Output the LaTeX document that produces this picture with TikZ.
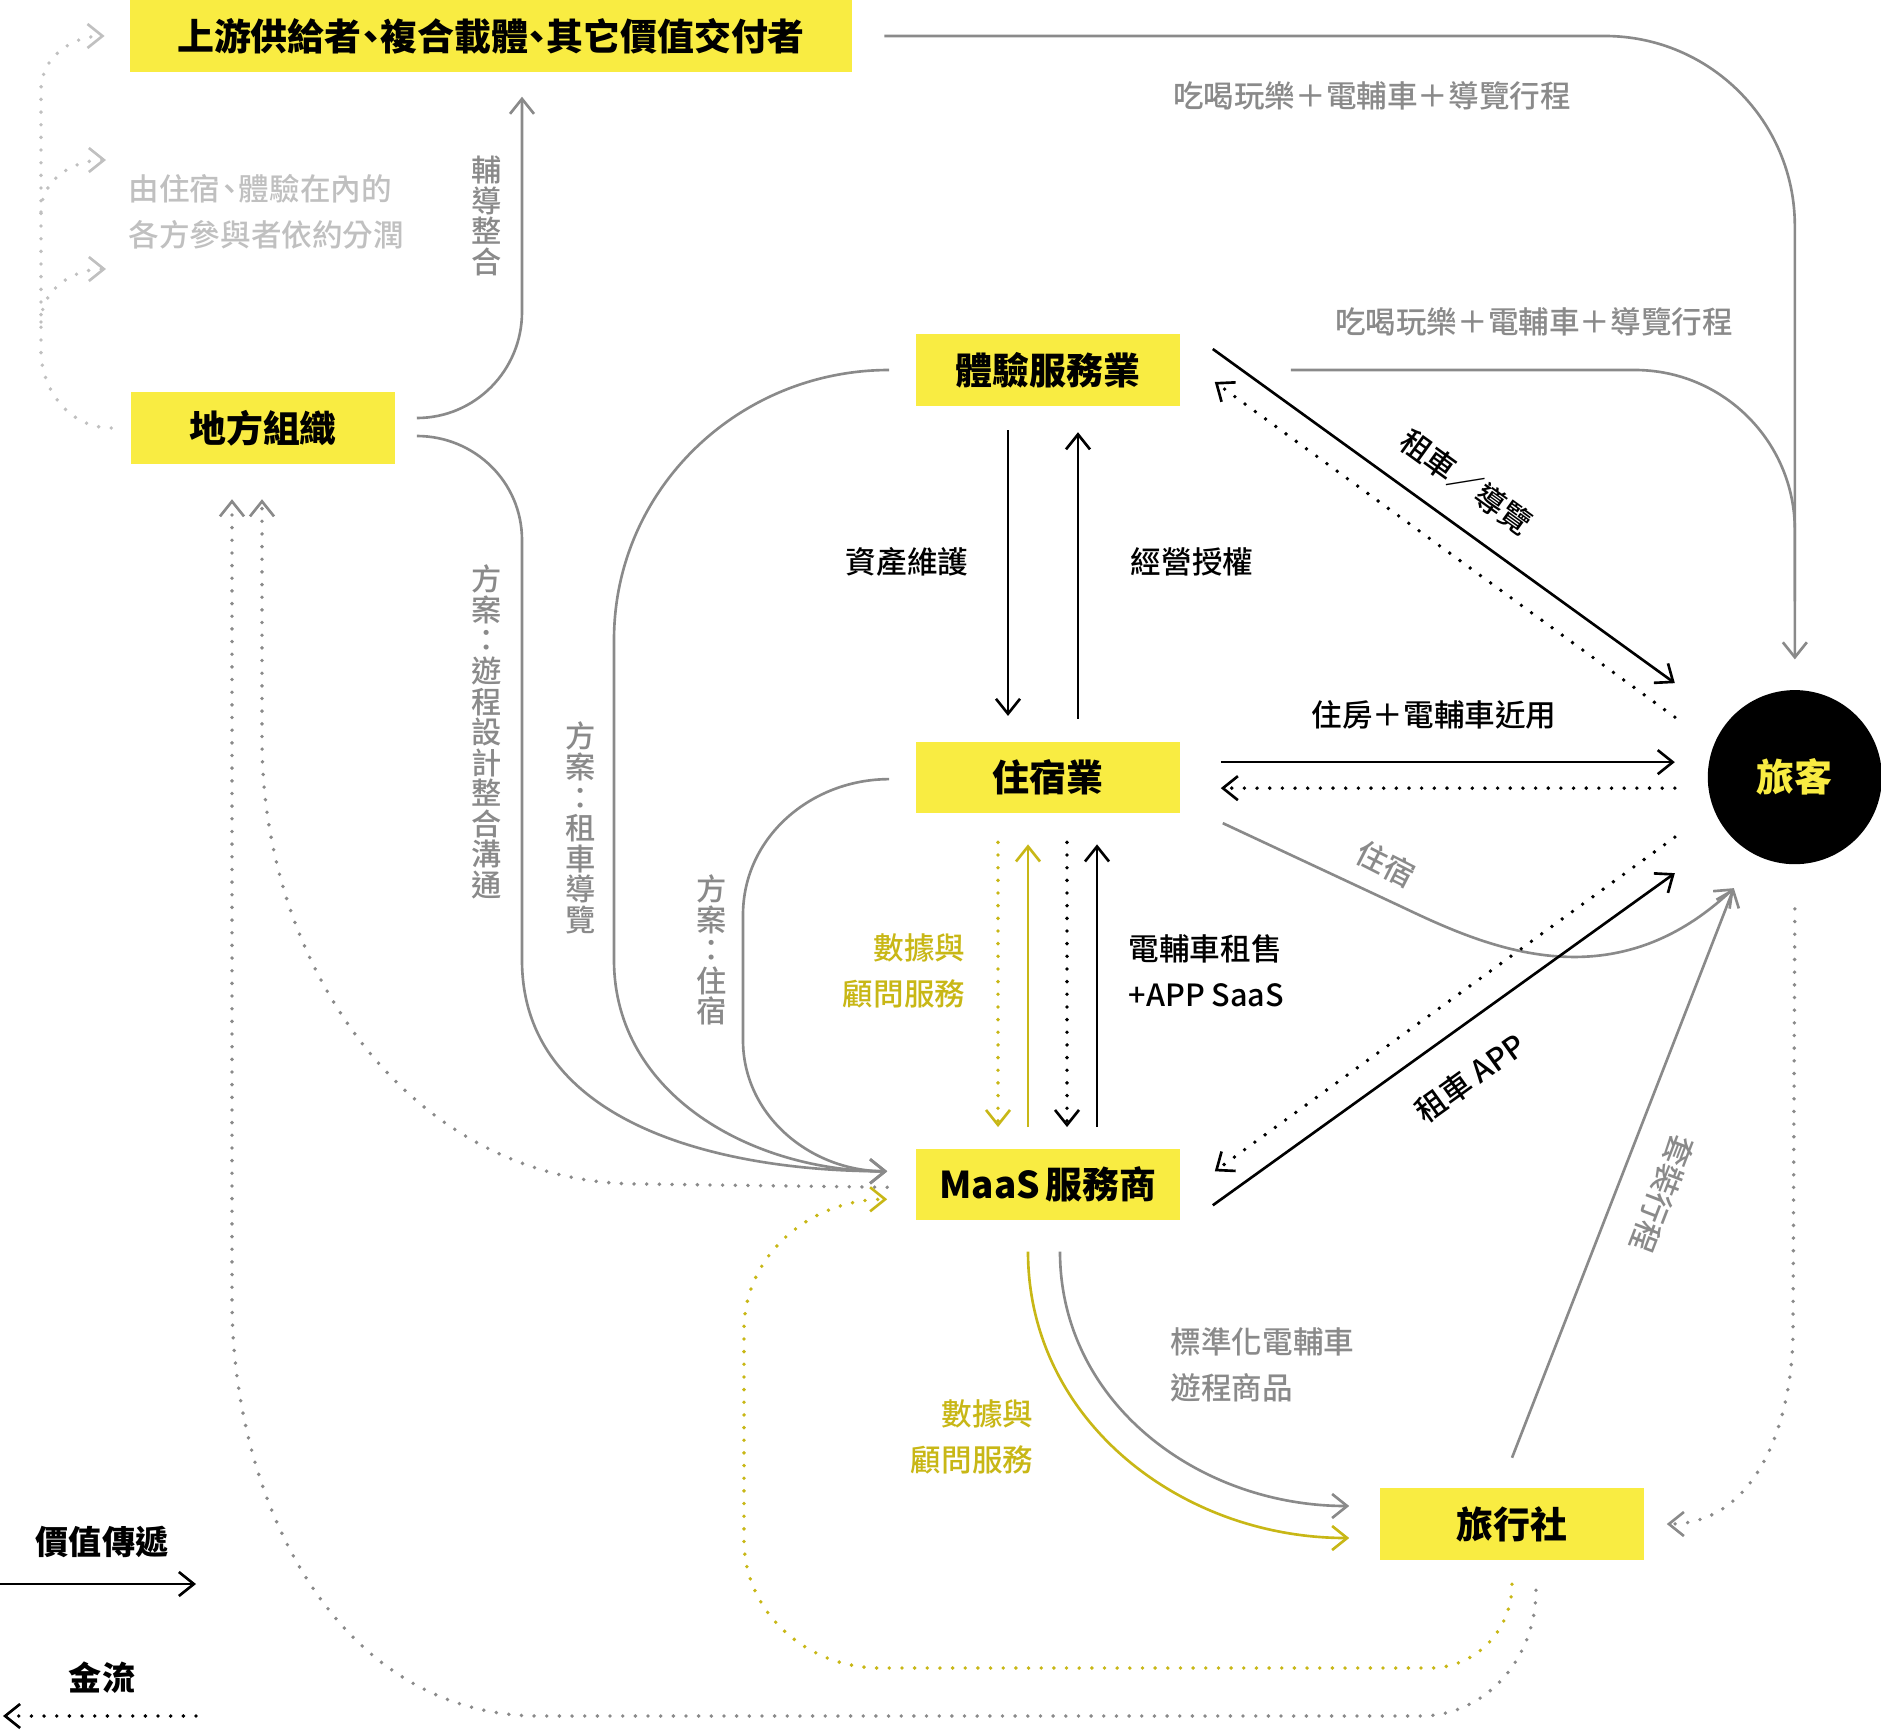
\documentclass[tikz,border=0pt]{standalone}
\usepackage{fontspec}
\setmainfont{Noto Sans CJK TC}
\newfontfamily\medfont{Noto Sans CJK TC Medium}
\usetikzlibrary{arrows.meta,positioning}
\definecolor{boxyellow}{RGB}{249,236,66}
\definecolor{datayellow}{RGB}{200,183,22}
\definecolor{flowgray}{RGB}{138,138,138}
\definecolor{palegray}{RGB}{192,192,192}

\begin{document}
\begin{tikzpicture}[
    x=0.01cm, y=0.01cm,
    box/.style={fill=boxyellow, minimum width=2.64cm, minimum height=0.71cm,
                inner sep=0pt, font=\fontsize{10.5pt}{12pt}\selectfont\bfseries},
    lbl/.style={inner sep=0pt, font=\fontsize{8.7pt}{13.1pt}\medfont},
    vlbl/.style={inner sep=0pt, align=center, text=flowgray,
                 font=\fontsize{8.6pt}{8.7pt}\medfont},
    flow/.style={line width=0.75pt, ->},
    cash/.style={line width=1.1pt, line cap=round, dash pattern=on 0pt off 3.6pt, ->},
    >={Straight Barb[length=1.5mm, width=2.4mm, line width=0.75pt]}]
  \useasboundingbox (0,0) rectangle (1881,-1730);

  % actors
  \node[box, minimum width=7.21cm, minimum height=0.72cm] (supply) at (491,-36)
    {上游供給者\kern-.25em、\kern-.25em複合載體\kern-.25em、\kern-.25em其它價值交付者};
  \node[box] (local) at (263,-428) {地方組織};
  \node[box] (exper) at (1048,-370) {體驗服務業};
  \node[box, below=3.345cm of exper] (lodge) {住宿業};
  \node[box, below=3.345cm of lodge] (maas) {MaaS\kern.15em 服務商};
  \node[box] (agency) at (1512,-1524) {旅行社};
  \node[circle, fill=black, minimum size=1.74cm, inner sep=0pt, text=boxyellow,
        font=\fontsize{10.8pt}{12pt}\selectfont\bfseries, right=5.26cm of lodge] (guest) {旅客};

  % revenue share (pale)
  \node[lbl, text=palegray, align=left, anchor=west] (sharetext) at (128,-212)
    {由住宿\kern-.2em、\kern-.2em體驗在內的\\各方參與者依約分潤};
  \coordinate (share1) at (106,-160);
  \coordinate (share2) at (106,-269);
  \draw[cash, palegray] ([shift={(-19,0)}]local.west) to[out=180,in=-90] (41,-350)
    -- (41,-90) to[out=90,in=180] ([shift={(-25,0)}]supply.west);
  \draw[cash, palegray] (41,-212) to[out=90,in=180] (share1);
  \draw[cash, palegray] (41,-322) to[out=90,in=180] (share2);

  % local organisation
  \draw[flow, flowgray] ([shift={(21,10)}]local.east) to[out=0,in=-90] (522,-312)
    -- ([shift={(31,-24)}]supply.south);
  \node[vlbl] (coachlbl) at (487,-216) {輔\\導\\整\\合};
  \draw[flow, flowgray] ([shift={(21,-8)}]local.east) to[out=0,in=90] (522,-540)
    -- (522,-960) to[out=-90,in=180] ([shift={(-28,13)}]maas.west);
  \node[vlbl] (planlbl) at (487,-732) {方\\案\\：\\遊\\程\\設\\計\\整\\合\\溝\\通};
  \draw[flow, flowgray] ([shift={(-26,0)}]exper.west) to[out=180,in=90] (614,-640)
    -- (614,-960) to[out=-90,in=180] ([shift={(-28,13)}]maas.west);
  \node[vlbl] (rentlbl) at (581,-828) {方\\案\\：\\租\\車\\導\\覽};
  \draw[flow, flowgray] ([shift={(-26,-2)}]lodge.west) to[out=180,in=90] (743,-915)
    -- (743,-1040) to[out=-90,in=180] ([shift={(-28,13)}]maas.west);
  \node[vlbl] (staylbl) at (712,-950) {方\\案\\：\\住\\宿};

  % to the traveller
  \draw[flow, flowgray, rounded corners=1.9cm] ([shift={(32,0)}]supply.east)
    -| ([shift={(0,30)}]guest.north);
  \node[lbl, text=flowgray] (pkglbl1) at (1372,-96) {吃喝玩樂＋電輔車＋導覽行程};
  \draw[line width=0.75pt, flowgray, rounded corners=1.6cm] ([shift={(110,0)}]exper.east)
    -| ([shift={(0,88)}]guest.north);
  \node[lbl, text=flowgray] (pkglbl2) at (1534,-322) {吃喝玩樂＋電輔車＋導覽行程};

  \draw[flow] ([shift={(32,21)}]exper.east) -- ([shift={(-120,94)}]guest.center);
  \draw[cash] ([shift={(-120,60)}]guest.center) -- ([shift={(34,-12)}]exper.east);
  \node[lbl, rotate=-35.8] (guidelbl) at (1466,-482) {租車／導覽};

  \draw[flow] ([shift={(40,15)}]lodge.east) -- ([shift={(-120,15)}]guest.center);
  \draw[cash] ([shift={(-120,-11)}]guest.center) -- ([shift={(40,-11)}]lodge.east);
  \node[lbl] (roomlbl) at (1434,-715) {住房＋電輔車近用};

  \draw[flow, flowgray] ([shift={(42,-46)}]lodge.east) -- (1400,-906)
    .. controls (1482,-945) and (1610,-1005) .. ([shift={(-61,-111)}]guest.center);
  \node[lbl, text=flowgray, rotate=-27] (sleeplbl) at (1386,-864) {住宿};

  \draw[flow] ([shift={(32,-21)}]maas.east) -- ([shift={(-120,-96)}]guest.center);
  \draw[cash] ([shift={(-120,-60)}]guest.center) -- ([shift={(34,13)}]maas.east);
  \node[lbl, rotate=35.7] (applbl) at (1470,-1078) {租車 APP};

  \draw[flow, flowgray] ([shift={(0,30)}]agency.north) -- ([shift={(-61,-111)}]guest.center);
  \node[lbl, text=flowgray, rotate=-111] (tourlbl) at (1662,-1194) {套裝行程};
  \draw[cash, flowgray] ([shift={(0,-44)}]guest.south) -- (1793,-1330)
    to[out=-90,in=0] ([shift={(22,0)}]agency.east);

  % experience <-> lodging
  \draw[flow] ([shift={(-40,-24)}]exper.south) -- ([shift={(-40,25)}]lodge.north);
  \draw[flow] ([shift={(30,22)}]lodge.north) -- ([shift={(30,-26)}]exper.south);
  \node[lbl] (assetlbl) at (907,-562) {資產維護};
  \node[lbl] (licencelbl) at (1192,-562) {經營授權};

  % lodging <-> MaaS
  \draw[cash, datayellow] ([shift={(-50,-29)}]lodge.south) -- ([shift={(-50,21)}]maas.north);
  \draw[flow, datayellow] ([shift={(-20,21)}]maas.north) -- ([shift={(-20,-31)}]lodge.south);
  \draw[cash] ([shift={(19,-29)}]lodge.south) -- ([shift={(19,21)}]maas.north);
  \draw[flow] ([shift={(49,21)}]maas.north) -- ([shift={(49,-31)}]lodge.south);
  \node[lbl, text=datayellow, align=right, anchor=east] (datalbl1) at (966,-971) {數據與\\顧問服務};
  \node[lbl, align=left, anchor=west] (salelbl) at (1128,-971) {電輔車租售\\+APP SaaS};

  % MaaS -> agency
  \draw[flow, flowgray] ([shift={(12,-31)}]maas.south) to[out=-90,in=180] ([shift={(-30,18)}]agency.west);
  \draw[flow, datayellow] ([shift={(-20,-31)}]maas.south) to[out=-90,in=180] ([shift={(-30,-14)}]agency.west);
  \node[lbl, text=flowgray, align=left, anchor=west] (productlbl) at (1170,-1365) {標準化電輔車\\遊程商品};
  \node[lbl, text=datayellow, align=right, anchor=east] (datalbl2) at (1034,-1437) {數據與\\顧問服務};

  % money back
  \draw[cash, flowgray] ([shift={(-28,-3)}]maas.west) -- (640,-1184)
    to[out=180,in=-90] (262,-740) -- ([shift={(-1,-35)}]local.south);
  \draw[cash, flowgray] ([shift={(24,-30)}]agency.south) to[out=-90,in=0] (1420,-1716)
    -- (540,-1716) to[out=180,in=-90] (232,-1300) -- ([shift={(-31,-35)}]local.south);
  \draw[cash, datayellow] ([shift={(0,-24)}]agency.south) to[out=-90,in=0] (1430,-1668)
    -- (880,-1668) to[out=180,in=-90] (744,-1540) -- (744,-1330)
    to[out=90,in=180] ([shift={(-28,-15)}]maas.west);

  % legend
  \node[lbl, font=\fontsize{9.4pt}{12pt}\selectfont\bfseries] (valuekey) at (102,-1542) {價值傳遞};
  \coordinate (valuea) at (0,-1584);
  \coordinate (valueb) at (196,-1584);
  \draw[flow] (valuea) -- (valueb);
  \node[lbl, font=\fontsize{9.4pt}{12pt}\selectfont\bfseries] (cashkey) at (102,-1678) {金流};
  \coordinate (casha) at (196,-1716);
  \coordinate (cashb) at (3,-1716);
  \draw[cash] (casha) -- (cashb);
\end{tikzpicture}
\end{document}
